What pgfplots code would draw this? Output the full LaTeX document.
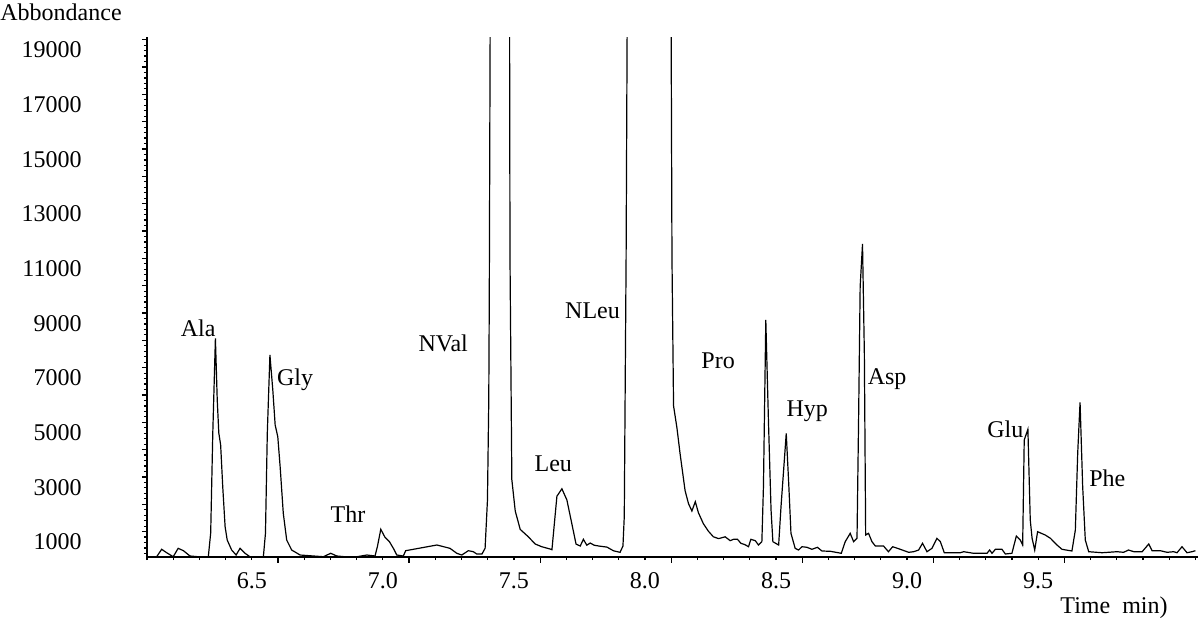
\documentclass[border=0pt]{standalone}
\usepackage{fontspec}
\setmainfont{Liberation Serif}
\usepackage{pgfplots}
\pgfplotsset{compat=1.18}
\newcommand\f{\fontsize{12}{14.4}\selectfont}

\begin{document}
\begin{tikzpicture}
\begin{axis}[
  name=ax,
  scale only axis, width=525.5pt, height=260pt,
  xmin=6.1, xmax=10.11, ymin=451, ymax=19478,
  scaled y ticks=false, scaled x ticks=false,
  axis x line*=bottom, axis y line*=left,
  axis line style={-, line width=0.8pt, black},
  tick align=outside,
  every tick/.style={black, line width=0.6pt},
  xtick={6.5,7.0,7.5,8.0,8.5,9.0,9.5},
  xticklabels={6.5,7.0,7.5,8.0,8.5,9.0,9.5},
  minor xtick={6.1,6.2,...,10.15},
  extra x ticks={6.6,7.1,7.6,8.1,8.6,9.1,9.6},
  extra x tick labels={},
  extra x tick style={major tick length=2.8pt},
  ytick={1000,3000,...,19000},
  yticklabels={1000,3000,5000,7000,9000,11000,13000,15000,17000,19000},
  minor ytick={580,780,...,19400},
  extra y ticks={1380,2380,...,19400},
  extra y tick labels={},
  extra y tick style={major tick length=2.5pt},
  major tick length=0pt, minor tick length=1.6pt,
  xticklabel style={font=\f, inner sep=0pt, anchor=north, yshift=-7.5pt},
  yticklabel style={font=\f, inner sep=0pt, anchor=east, xshift=-32.5pt},
]
\addplot[black, line width=0.6pt] table {
6.099 460
6.137 462
6.156 733
6.175 608
6.200 462
6.219 769
6.239 682
6.264 488
6.296 460
6.334 462
6.343 1329
6.351 4977
6.361 8454
6.368 6196
6.374 4988
6.381 4549
6.389 3023
6.398 1560
6.406 1073
6.423 707
6.440 524
6.455 769
6.474 587
6.493 460
6.544 460
6.552 1318
6.559 4977
6.569 7843
6.580 6562
6.589 5281
6.599 4853
6.608 3755
6.620 2050
6.633 1073
6.652 707
6.684 524
6.735 488
6.773 462
6.801 587
6.824 488
6.856 460
6.900 460
6.939 524
6.970 488
6.979 828
6.992 1465
7.008 1172
7.025 1011
7.040 769
7.053 524
7.078 488
7.087 682
7.206 890
7.256 769
7.282 587
7.301 524
7.326 682
7.345 645
7.358 561
7.378 561
7.390 769
7.399 2537
7.404 6196
7.406 10038
7.410 22000
7.445 60000
7.483 22000
7.485 11392
7.492 3283
7.505 2134
7.524 1461
7.555 1190
7.581 927
7.606 828
7.638 744
7.645 718
7.664 2676
7.683 2947
7.702 2540
7.721 1666
7.737 923
7.753 854
7.765 1099
7.778 883
7.791 963
7.806 883
7.823 854
7.855 813
7.880 678
7.905 623
7.916 854
7.921 1933
7.928 11392
7.933 22000
8.016 60000
8.099 22000
8.103 11392
8.109 5984
8.122 5171
8.134 4227
8.153 2881
8.166 2405
8.179 2134
8.192 2475
8.204 2068
8.223 1666
8.242 1395
8.261 1190
8.281 1124
8.306 1190
8.325 1050
8.338 1099
8.353 1099
8.366 952
8.382 900
8.395 828
8.404 1099
8.421 1048
8.433 890
8.446 1011
8.452 3023
8.461 9123
8.471 5464
8.481 2171
8.488 1011
8.510 890
8.519 2292
8.539 4977
8.549 3023
8.557 1318
8.573 769
8.586 707
8.599 828
8.618 806
8.637 733
8.658 806
8.675 671
8.707 660
8.749 587
8.764 1011
8.783 1318
8.796 1011
8.809 1135
8.815 5464
8.821 10342
8.830 11904
8.837 7905
8.842 1256
8.853 1318
8.866 1011
8.879 854
8.910 854
8.929 645
8.945 828
8.974 733
9.006 623
9.025 645
9.044 707
9.059 952
9.076 645
9.095 769
9.114 1135
9.127 1011
9.142 608
9.203 608
9.216 645
9.254 587
9.305 587
9.315 707
9.324 587
9.337 733
9.362 733
9.375 561
9.400 587
9.417 1220
9.432 1073
9.441 890
9.447 4732
9.461 5124
9.470 1805
9.477 1135
9.487 707
9.498 1377
9.527 1256
9.547 1135
9.572 890
9.591 733
9.629 671
9.642 1439
9.651 4246
9.660 6112
9.670 3023
9.680 1073
9.693 645
9.744 608
9.801 645
9.826 623
9.845 707
9.865 645
9.897 645
9.922 927
9.935 682
9.966 682
9.992 623
10.017 645
10.030 608
10.049 828
10.068 608
10.087 645
10.100 682
};
\node[font=\f] at (axis cs:6.295,8830) {Ala};
\node[font=\f] at (axis cs:6.665,6950) {Gly};
\node[font=\f] at (axis cs:6.867,2025) {Thr};
\node[font=\f] at (axis cs:7.230,8281) {NVal};
\node[font=\f] at (axis cs:7.800,9452) {NLeu};
\node[font=\f] at (axis cs:7.650,3854) {Leu};
\node[font=\f] at (axis cs:8.279,7623) {Pro};
\node[font=\f] at (axis cs:8.619,5793) {Hyp};
\node[font=\f] at (axis cs:8.924,6964) {Asp};
\node[font=\f] at (axis cs:9.375,5135) {Glu};
\node[font=\f] at (axis cs:9.764,3342) {Phe};
\end{axis}
\node[font=\f, anchor=west, inner sep=0pt] at ([xshift=-73.5pt,yshift=12.5pt]ax.north west) {Abbondance};
\node[font=\f, anchor=east, inner sep=0pt] at ([xshift=-15pt,yshift=-25.5pt]ax.south east) {Time~~min)};
\pgfresetboundingbox
\path[use as bounding box] ([xshift=-73.5pt,yshift=-33.5pt]ax.south west) rectangle ([xshift=1pt,yshift=18.5pt]ax.north east);
\end{tikzpicture}
\end{document}
